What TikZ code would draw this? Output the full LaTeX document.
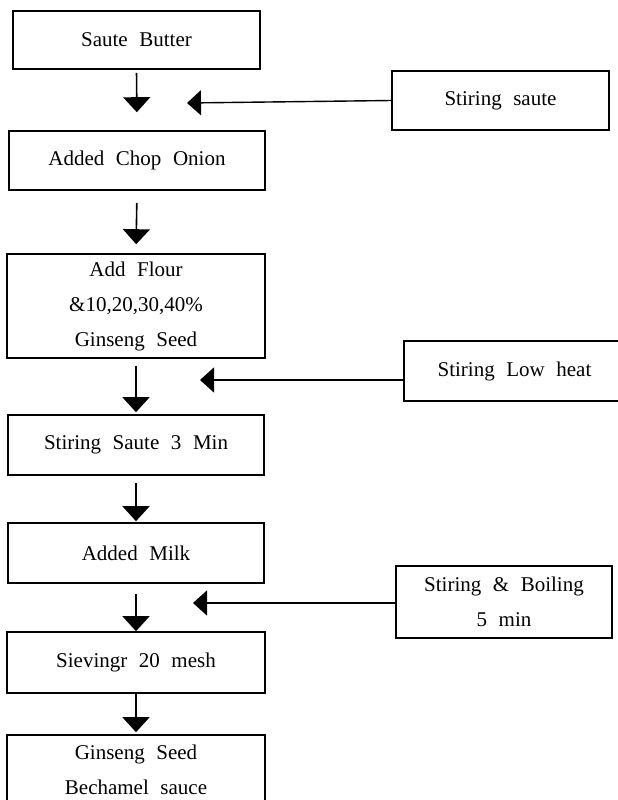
\documentclass[tikz,border=0pt]{standalone}
\usepackage{fontspec}
\setmainfont{Liberation Serif}
\usetikzlibrary{arrows.meta}
\newcommand{\boxfont}{\fontsize{21}{35}\selectfont\spaceskip=0.55em\relax}

\begin{document}
\begin{tikzpicture}[x=1pt, y=-1pt,
  stepbox/.style={draw, line width=1.6pt, inner sep=0pt, align=center, font=\boxfont},
  flow/.style={line width=1.6pt, -{Triangle[width=27pt,length=15pt]}},
  side/.style={line width=1.4pt, -{Triangle[width=25pt,length=14pt]}}]
\useasboundingbox (0,0) rectangle (618,800);

% main column
\node[stepbox, minimum width=247pt, minimum height=58pt] (butter) at (136.5,40) {Saute Butter};
\node[stepbox, minimum width=256pt, minimum height=59pt] (onion) at (137,160.5) {Added Chop Onion};
\node[stepbox, minimum width=258pt, minimum height=104pt] (flour) at (136,306) {Add Flour\\\&10,20,30,40\%\\Ginseng Seed};
\node[stepbox, minimum width=256pt, minimum height=60pt] (saute) at (136,445) {Stiring Saute 3 Min};
\node[stepbox, minimum width=256pt, minimum height=60pt] (milk) at (136,553) {Added Milk};
\node[stepbox, minimum width=258pt, minimum height=61pt] (sieve) at (136,662.5) {Sievingr 20 mesh};
\node[stepbox, minimum width=258pt, minimum height=70pt] (sauce) at (136,770) {Ginseng Seed\\Bechamel sauce};

% side conditions
\node[stepbox, minimum width=217pt, minimum height=59pt] (stir1) at (500.5,100.5) {Stiring saute};
\node[stepbox, minimum width=221pt, minimum height=60pt] (stir2) at (514.5,371) {Stiring Low heat};
\node[stepbox, minimum width=216pt, minimum height=72pt] (stir3) at (504,602) {Stiring \& Boiling\\5 min};

\coordinate (in1) at (187,103);
\coordinate (in2) at (200,380);
\coordinate (in3) at (193,603);

\draw[flow, shorten <=3pt, shorten >=18pt] (butter.south) -- (onion.north);
\draw[flow, shorten <=12pt, shorten >=9pt] (onion.south) -- (flour.north);
\draw[flow, shorten <=7pt, shorten >=2pt] (flour.south) -- (saute.north);
\draw[flow, shorten <=7pt, shorten >=1pt] (saute.south) -- (milk.north);
\draw[flow, shorten <=10pt] (milk.south) -- (sieve.north);
\draw[flow, shorten >=2pt] (sieve.south) -- (sauce.north);

\draw[side] (stir1.west) -- (in1);
\draw[side] (in2 -| stir2.west) -- (in2);
\draw[side] (in3 -| stir3.west) -- (in3);

\end{tikzpicture}
\end{document}
